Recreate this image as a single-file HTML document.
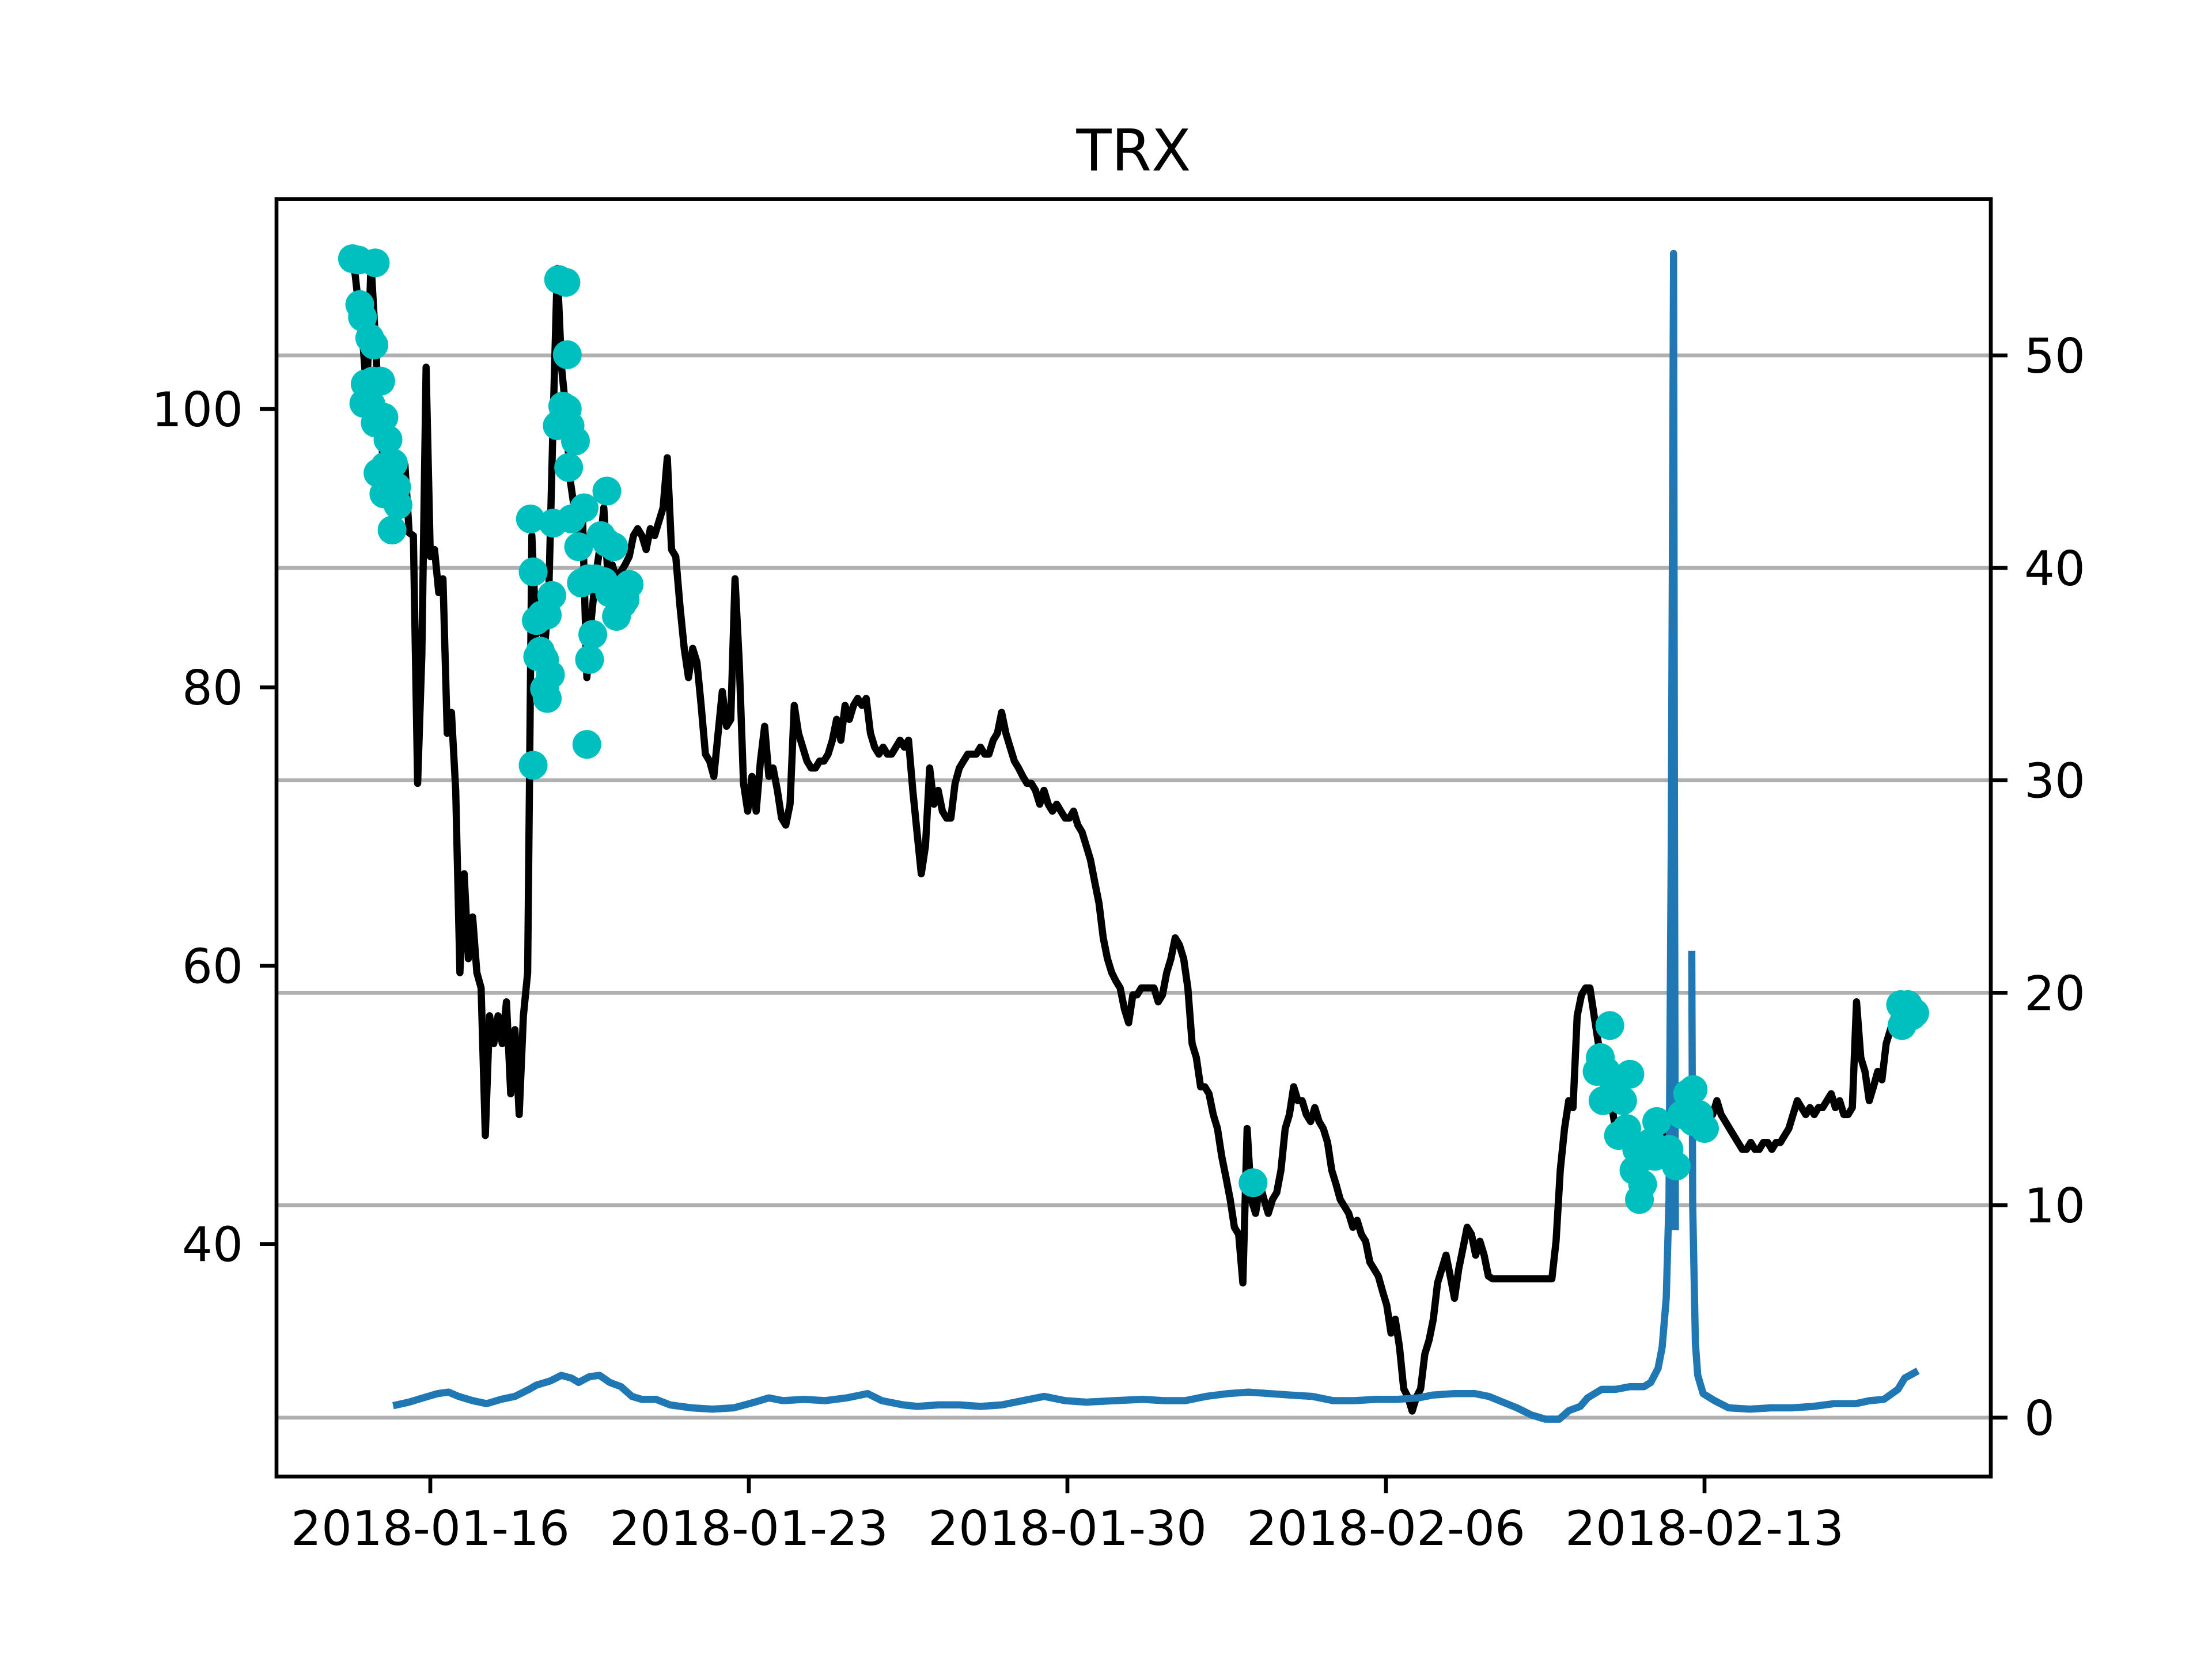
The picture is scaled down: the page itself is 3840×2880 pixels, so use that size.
<!DOCTYPE html>
<html><head><meta charset="utf-8"><style>
html,body{margin:0;padding:0;background:#fff;}
svg{display:block;}
text{font-family:"DejaVu Sans","Liberation Sans",sans-serif;fill:#000;}
</style></head><body>
<svg id="chart" width="3840" height="2880" viewBox="0 0 3840 2880" xmlns="http://www.w3.org/2000/svg">
<rect width="3840" height="2880" fill="#fff"/>
<defs><clipPath id="clip"><rect x="480" y="345.6" width="2976" height="2217.6"/></clipPath></defs>
<g id="grid"></g>
<g id="plot" clip-path="url(#clip)"></g>
<g id="axes"></g>
<text x="1968" y="296" font-size="100" text-anchor="middle">TRX</text>
</svg>
<script>
// price series: start day offset from 2018-01-16, uniform step (days)
const priceStart = -1.767;
const priceStep = 0.0930;
const priceValues = [110.9,110.3,107.6,105.1,101.0,110.5,105.1,99.0,96.0,95.0,93.4,93.4,93.9,96.0,91.1,90.9,73.1,82.3,103.0,89.4,89.9,86.8,87.8,76.7,78.2,72.6,59.5,66.6,60.5,63.5,59.5,58.4,47.8,56.4,54.4,56.4,54.4,57.4,50.8,55.4,49.3,56.4,59.5,90.9,83.8,85.8,82.8,86.8,99.0,110.1,103.0,100.0,95.0,92.9,90.9,91.9,80.7,84.8,87.8,89.9,92.9,87.8,88.8,87.8,88.3,88.8,89.4,90.9,91.4,90.9,89.9,91.4,90.9,91.9,92.9,96.5,89.9,89.4,85.8,82.8,80.7,82.8,81.8,78.7,75.2,74.7,73.6,76.7,79.7,77.2,77.7,87.8,81.8,73.1,71.1,73.6,71.1,74.7,77.2,73.6,74.2,72.6,70.6,70.1,71.6,78.7,76.7,75.7,74.7,74.2,74.2,74.7,74.7,75.2,76.2,77.7,76.2,78.7,77.7,78.7,79.2,78.7,79.2,76.7,75.7,75.2,75.7,75.2,75.2,75.7,76.2,75.7,76.2,72.6,69.6,66.6,68.6,74.2,71.6,72.6,71.1,70.6,70.6,73.1,74.2,74.7,75.2,75.2,75.2,75.7,75.2,75.2,76.2,76.7,78.2,76.7,75.7,74.7,74.2,73.6,73.1,73.1,72.6,71.6,72.6,71.6,71.1,71.6,71.1,70.6,70.6,71.1,70.1,69.6,68.6,67.6,66.0,64.5,62.0,60.5,59.5,58.9,58.4,56.9,55.9,57.9,57.9,58.4,58.4,58.4,58.4,57.4,57.9,59.5,60.5,62.0,61.5,60.5,58.4,54.4,53.4,51.3,51.3,50.8,49.3,48.3,46.3,44.8,43.2,41.2,40.7,37.2,48.3,43.2,42.2,44.3,43.2,42.2,43.2,43.7,45.3,48.3,49.3,51.3,50.3,50.3,49.3,48.8,49.8,48.8,48.3,47.3,45.3,44.3,43.2,42.7,42.2,41.2,41.7,40.7,40.2,38.7,38.2,37.7,36.6,35.6,33.6,34.6,32.6,29.6,29.0,28.0,29.0,29.6,32.1,33.1,34.6,37.2,38.2,39.2,37.7,36.1,38.2,39.7,41.2,40.7,39.2,40.2,39.2,37.7,37.5,37.5,37.5,37.5,37.5,37.5,37.5,37.5,37.5,37.5,37.5,37.5,37.5,37.5,37.5,40.2,45.3,48.3,50.3,49.8,56.4,57.9,58.4,58.4,56.4,54.4,52.4,51.3,50.3,48.3,48.3,48.8,47.3,45.3,45.3,46.3,47.3,48.3,48.8,48.8,48.3,46.8,47.8,48.3,49.3,50.3,50.8,50.8,50.3,49.8,49.8,49.3,49.3,50.3,49.3,48.8,48.3,47.8,47.3,46.8,46.8,47.3,46.8,46.8,47.3,47.3,46.8,47.3,47.3,47.8,48.3,49.3,50.3,49.8,49.3,49.8,49.3,49.8,49.8,50.3,50.8,49.8,50.3,49.3,49.3,49.8,57.4,53.4,52.4,50.3,51.3,52.4,51.8,54.4,55.4,56.4,55.9,56.4,56.9,56.9];
// signal markers
const dotDays = [-1.71,-1.58,-1.21,-1.55,-1.49,-1.33,-1.24,-1.43,-1.27,-1.09,-1.46,-1.30,-1.15,-1.02,-1.21,-0.93,-1.15,-0.99,-0.81,-0.90,-1.02,-0.74,-0.71,-0.84,2.20,2.26,2.33,2.45,2.57,2.67,2.42,2.36,2.51,2.64,2.51,2.57,2.26,2.82,2.98,2.91,3.01,2.79,3.07,3.19,3.01,3.04,2.70,3.10,3.38,3.26,3.47,3.57,3.50,3.44,3.88,3.32,3.63,3.75,3.88,4.03,3.81,3.94,4.09,4.22,4.37,4.28,18.08,25.92,25.71,25.84,25.64,25.77,26.01,26.20,26.36,26.11,26.29,26.51,26.45,26.64,26.57,26.70,26.82,26.95,26.91,27.22,27.38,27.63,27.75,27.88,28.00,27.50,27.75,32.31,32.47,32.62,32.34,32.56];
const dotValues = [110.8,110.7,110.5,107.5,106.6,105.1,104.6,101.8,102.0,102.0,100.4,100.3,99.2,99.4,99.0,97.8,95.4,95.9,96.1,94.4,93.9,94.4,93.1,91.3,92.1,88.3,84.8,85.2,85.2,86.6,82.6,82.2,82.0,80.9,79.9,79.2,74.4,109.3,109.1,100.2,100.0,98.8,98.8,97.7,103.9,95.8,91.8,92.1,92.9,90.1,87.8,83.8,82.0,75.9,94.1,87.5,87.8,90.9,90.4,90.1,87.6,86.8,85.1,86.0,87.4,86.3,44.4,55.7,53.4,52.4,52.4,50.3,51.3,50.3,52.2,47.8,48.3,46.8,45.3,44.3,43.2,46.3,47.3,48.8,46.3,46.8,45.6,50.8,51.1,49.3,48.3,49.3,48.8,57.2,57.2,56.6,55.7,56.4];
// volume (right axis); null = gap
const volDays = [-0.74,-0.47,-0.16,0.16,0.40,0.62,0.93,1.24,1.55,1.86,2.17,2.33,2.64,2.88,3.10,3.26,3.50,3.72,3.94,4.19,4.43,4.65,4.96,5.27,5.74,6.20,6.67,7.13,7.44,7.75,8.22,8.68,9.15,9.61,9.92,10.39,10.70,11.16,11.63,12.09,12.56,13.02,13.49,13.95,14.42,15.04,15.66,16.12,16.59,17.05,17.52,17.98,18.45,18.91,19.38,19.84,20.31,20.78,21.24,21.71,22.02,22.48,22.95,23.26,23.57,23.88,24.19,24.50,24.81,25.02,25.27,25.43,25.74,26.05,26.36,26.67,26.82,26.98,27.07,27.16,27.22,27.27,27.32,27.34,27.36,27.40,27.72,27.74,27.80,27.85,27.97,28.22,28.53,29.0,29.46,29.92,30.39,30.85,31.32,31.63,31.94,32.25,32.40,32.62];
const volValues = [0.60,0.73,0.93,1.13,1.20,1.00,0.80,0.66,0.86,1.00,1.33,1.53,1.73,1.99,1.86,1.66,1.93,1.99,1.66,1.46,1.00,0.86,0.86,0.60,0.46,0.40,0.46,0.73,0.93,0.80,0.86,0.80,0.93,1.13,0.80,0.60,0.53,0.60,0.60,0.53,0.60,0.80,1.00,0.80,0.73,0.80,0.86,0.80,0.80,1.00,1.13,1.20,1.13,1.06,1.00,0.80,0.80,0.86,0.86,0.93,1.06,1.13,1.13,1.00,0.73,0.46,0.13,-0.07,-0.07,0.33,0.53,0.93,1.33,1.33,1.46,1.46,1.66,2.32,3.32,5.64,10.3,27.0,54.8,27.0,9.0,null,21.8,10.0,3.5,2.0,1.13,0.80,0.46,0.40,0.46,0.46,0.53,0.66,0.66,0.80,0.86,1.33,1.86,2.12];
const leftTicks = [40,60,80,100];
const rightTicks = [0,10,20,30,40,50];
const xTickDays = [0,7,14,21,28];
const xTickLabels = ['2018-01-16','2018-01-23','2018-01-30','2018-02-06','2018-02-13'];

const AX={l:480,r:3456,t:345.6,b:2563.2};
function xs(d){return 747+d*79.0;}
function yl(v){return 710+(100-v)*24.16;}
function yr(v){return 2461-v*36.88;}
const NS='http://www.w3.org/2000/svg';
function mk(tag,attrs,parent){const e=document.createElementNS(NS,tag);for(const k in attrs)e.setAttribute(k,attrs[k]);parent.appendChild(e);return e;}
const grid=document.getElementById('grid'),plot=document.getElementById('plot'),axes=document.getElementById('axes');

rightTicks.forEach(v=>{
  const g=mk('line',{x1:AX.l,x2:AX.r,y1:yr(v),y2:yr(v),stroke:'#b0b0b0','stroke-width':6.7},grid);
  
  
});

// price line
let d='';
priceValues.forEach((v,i)=>{d+=(i?'L':'M')+xs(priceStart+i*priceStep).toFixed(1)+','+yl(v).toFixed(1);});
const pl=mk('path',{d:d,fill:'none',stroke:'#000','stroke-width':12.5,'stroke-linejoin':'round','stroke-linecap':'round'},plot);



// volume line
let vd='',pen=false;
volDays.forEach((dd,i)=>{const v=volValues[i];if(v===null){pen=false;return;}vd+=(pen?'L':'M')+xs(dd).toFixed(1)+','+yr(v).toFixed(1);pen=true;});
const vl=mk('path',{d:vd,fill:'none',stroke:'#1f77b4','stroke-width':12.5,'stroke-linejoin':'round','stroke-linecap':'square'},plot);



// markers
dotDays.forEach((dd,i)=>{
  const c=mk('circle',{cx:xs(dd),cy:yl(dotValues[i]),r:25,fill:'#00bfbf'},plot);
  
  
});

// spines
const sp=mk('rect',{x:AX.l,y:AX.t,width:AX.r-AX.l,height:AX.b-AX.t,fill:'none',stroke:'#000','stroke-width':6.7},axes);



leftTicks.forEach(v=>{
  const y=yl(v);
  const t=mk('line',{x1:AX.l-29,x2:AX.l,y1:y,y2:y,stroke:'#000','stroke-width':6.7},axes);
  
  
  const tx=mk('text',{x:AX.l-58,y:y+30,'font-size':83.3,'text-anchor':'end'},axes);
  tx.textContent=v;
  
  
});
rightTicks.forEach(v=>{
  const y=yr(v);
  const t=mk('line',{x1:AX.r,x2:AX.r+29,y1:y,y2:y,stroke:'#000','stroke-width':6.7},axes);
  
  
  const tx=mk('text',{x:AX.r+58,y:y+30,'font-size':83.3,'text-anchor':'start'},axes);
  tx.textContent=v;
  
  
});
xTickDays.forEach((dd,i)=>{
  const x=xs(dd);
  const t=mk('line',{x1:x,x2:x,y1:AX.b,y2:AX.b+29,stroke:'#000','stroke-width':6.7},axes);
  
  
  const tx=mk('text',{x:x,y:AX.b+58+61,'font-size':83.3,'text-anchor':'middle'},axes);
  tx.textContent=xTickLabels[i];
  
  
});
</script>
</body></html>
